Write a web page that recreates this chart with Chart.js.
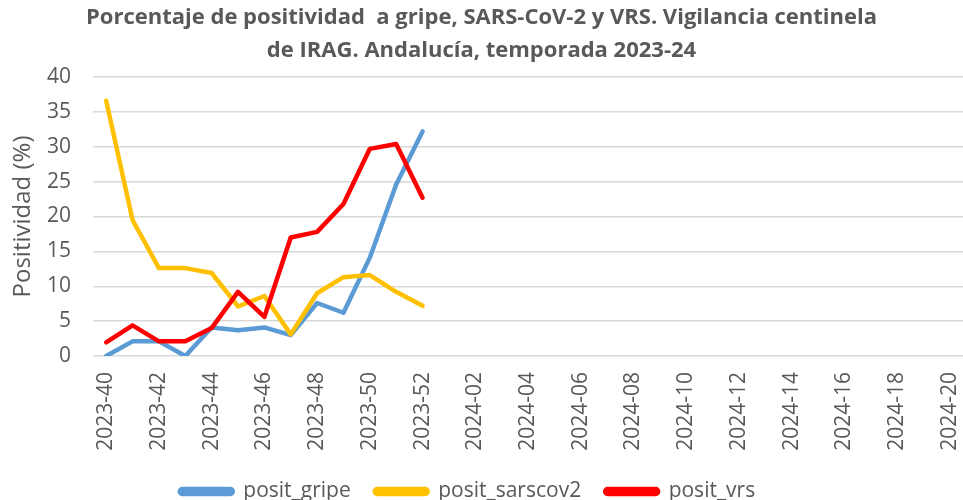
<!DOCTYPE html>
<html>
<head>
<meta charset="utf-8">
<script src="https://cdn.jsdelivr.net/npm/chart.js@4"></script>
<style>
  html, body { margin: 0; padding: 0; background: #fff; overflow: hidden; }
  #wrap { width: 963px; height: 500px; }
</style>
</head>
<body>
<div id="wrap"><canvas id="positChart"></canvas></div>
<script>
// semanas 2023-40 .. 2024-20
const weeks = [
    '2023-40', '2023-41', '2023-42', '2023-43', '2023-44', '2023-45', '2023-46', '2023-47', '2023-48', '2023-49',
    '2023-50', '2023-51', '2023-52', '2024-01', '2024-02', '2024-03', '2024-04', '2024-05', '2024-06', '2024-07',
    '2024-08', '2024-09', '2024-10', '2024-11', '2024-12', '2024-13', '2024-14', '2024-15', '2024-16', '2024-17',
    '2024-18', '2024-19', '2024-20',
];

const positGripe    = [0, 2.1, 2.1, 0, 4.1, 3.7, 4.1, 3.0, 7.6, 6.2, 14.1, 24.6, 32.2];
const positSarscov2 = [36.6, 19.5, 12.6, 12.6, 11.9, 7.1, 8.6, 3.1, 9.0, 11.3, 11.6, 9.2, 7.2];
const positVrs      = [1.95, 4.4, 2.1, 2.1, 4.0, 9.2, 5.6, 17.0, 17.8, 21.8, 29.7, 30.4, 22.7];

const titleLines = [
    'Porcentaje de positividad  a gripe, SARS-CoV-2 y VRS. Vigilancia centinela',
    'de IRAG. Andalucía, temporada 2023-24',
];

const TEXT = '#595959';
const FONT = "'Open Sans', 'Liberation Sans', sans-serif";

const line = (label, data, color, order) => ({
    label, data, order,
    borderColor: color, backgroundColor: color,
    borderWidth: 4.5, pointRadius: 0, tension: 0,
    borderJoinStyle: 'round', borderCapStyle: 'round',
});

// legend in the original sits a bit left of centre
const legendShift = {
    id: 'legendShift',
    beforeDraw(chart) {
        if (!chart.legend) return;
        chart.legend.left = -14;
        chart.legend.right = chart.width - 14;
    },
};

new Chart(document.getElementById('positChart'), {
    type: 'line',
    data: {
        labels: weeks,
        datasets: [
            line('posit_gripe',    positGripe,    '#5B9BD5', 3),
            line('posit_sarscov2', positSarscov2, '#FFC000', 2),
            line('posit_vrs',      positVrs,      '#FF0000', 1),
        ],
    },
    options: {
        animation: false, responsive: true, maintainAspectRatio: false,
        layout: { padding: 0 },
        plugins: {
            tooltip: { enabled: false },
            title: {
                display: true, text: titleLines, color: TEXT,
                font: { family: FONT, size: 22, weight: 'bold', lineHeight: 33 / 22 },
                padding: { top: 1, bottom: 10 },
            },
            legend: {
                position: 'bottom', maxHeight: 43,
                labels: {
                    color: TEXT, boxWidth: 53, boxHeight: 5, padding: 24,
                    useBorderRadius: true, borderRadius: 2.5,
                    font: { family: FONT, size: 21 },
                    sort: (a, b) => a.datasetIndex - b.datasetIndex,
                },
            },
        },
        scales: {
            x: {
                offset: true,
                grid: { display: false, drawTicks: false },
                border: { display: false },
                ticks: {
                    color: TEXT, autoSkip: false, maxRotation: 90, minRotation: 90, padding: 16,
                    font: { family: FONT, size: 21 },
                    callback: (v, i) => (i % 2 === 0 ? weeks[i] : ''),
                },
                afterFit: s => { s.height = 101; s.paddingLeft = 0; s.paddingRight = 0; },
            },
            y: {
                min: 0, max: 40,
                grid: { color: '#d9d9d9', lineWidth: 1.5, drawTicks: false },
                border: { display: false },
                ticks: {
                    stepSize: 5, color: TEXT, padding: 22,
                    font: { family: FONT, size: 21, lineHeight: 0.8 },
                },
                title: {
                    display: true, text: 'Positividad (%)', color: TEXT,
                    font: { family: FONT, size: 24 }, padding: { top: 9, bottom: 0 },
                },
                afterFit: s => { s.width = 93; },
            },
        },
    },
    plugins: [legendShift],
});
</script>
</body>
</html>
